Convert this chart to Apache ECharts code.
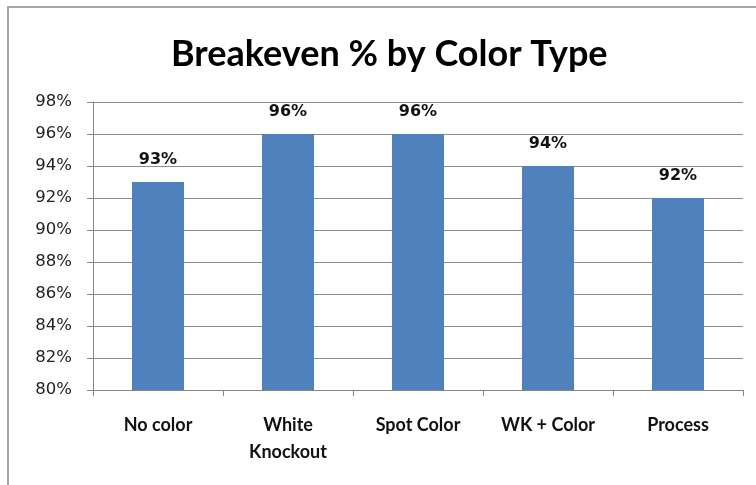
<!DOCTYPE html>
<html>
<head>
<meta charset="utf-8">
<style>
  html, body { margin: 0; padding: 0; background: #fff; }
  #chart { width: 756px; height: 485px; }
</style>
<script src="https://cdn.jsdelivr.net/npm/echarts@6/dist/echarts.min.js"></script>
</head>
<body>
<div id="chart"></div>
<script>
// Breakeven share by colour treatment
const categories = ['No color', 'White\nKnockout', 'Spot Color', 'WK + Color', 'Process'];
const breakeven = [93, 96, 96, 94, 92];
const yTicks = { min: 80, max: 98, step: 2 };

const chart = echarts.init(document.getElementById('chart'), null, { renderer: 'canvas' });

chart.setOption({
  backgroundColor: '#ffffff',
  animation: false,
  title: {
    text: 'Breakeven % by Color Type',
    left: 166,
    top: 31,
    textStyle: {
      fontFamily: 'Lato',
      fontWeight: 'bold',
      fontSize: 36,
      color: '#000'
    }
  },
  graphic: [{
    type: 'polyline',
    shape: { points: [[8, 485], [8, 7], [756, 7]] },
    style: { stroke: '#a6a6a6', lineWidth: 2, fill: null },
    silent: true
  }],
  grid: { left: 93, right: 13, top: 102, bottom: 95 },
  xAxis: {
    type: 'category',
    data: categories,
    axisLine: { show: true, lineStyle: { color: '#868686', width: 1 } },
    axisTick: { show: true, length: 6, alignWithLabel: false, lineStyle: { color: '#868686' } },
    axisLabel: {
      color: '#111',
      fontFamily: 'Lato',
      fontWeight: 'bold',
      fontSize: 18,
      lineHeight: 27,
      margin: 22,
      interval: 0
    }
  },
  yAxis: {
    type: 'value',
    min: yTicks.min,
    max: yTicks.max,
    interval: yTicks.step,
    axisLine: { show: true, lineStyle: { color: '#868686', width: 1 } },
    axisTick: { show: true, length: 6, lineStyle: { color: '#868686' } },
    splitLine: { show: true, lineStyle: { color: '#8c8c8c', width: 1 } },
    axisLabel: {
      color: '#222',
      fontFamily: 'DejaVu Sans',
      fontSize: 16.5,
      margin: 21,
      formatter: v => v + '%'
    }
  },
  series: [{
    type: 'bar',
    data: breakeven,
    barWidth: 52,
    itemStyle: { color: '#4f81bd' },
    label: {
      show: true,
      position: 'top',
      distance: 14,
      formatter: p => p.value + '%',
      color: '#111',
      fontFamily: 'DejaVu Sans',
      fontWeight: 'bold',
      fontSize: 16
    }
  }]
});
</script>
</body>
</html>
